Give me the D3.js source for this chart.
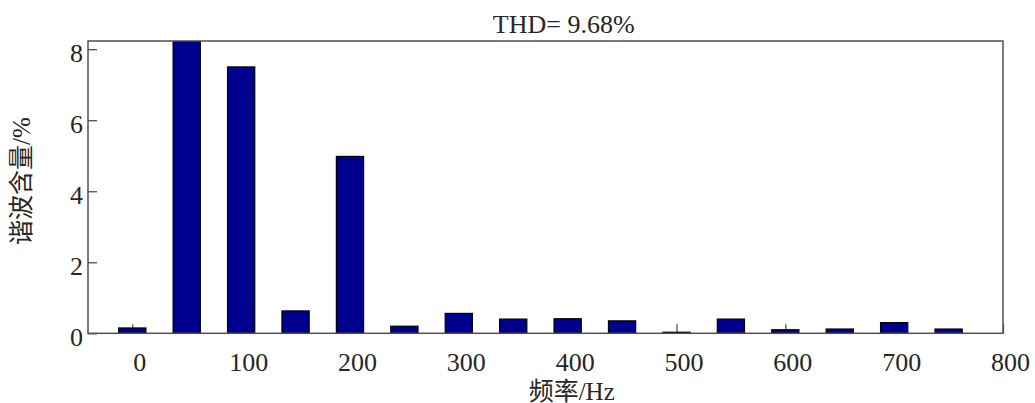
<!DOCTYPE html>
<html>
<head>
<meta charset="utf-8">
<script src="https://cdn.jsdelivr.net/npm/d3@7"></script>
<style>
  html, body { margin: 0; padding: 0; background: #fff; }
  svg { display: block; }
  text { font-family: "Liberation Serif", "Noto Sans CJK SC", serif; fill: #262626; }
</style>
</head>
<body>
<svg id="chart" width="1035" height="403"></svg>
<script>
// Harmonic spectrum (percentage of fundamental)
const frequencies = [0, 50, 100, 150, 200, 250, 300, 350, 400, 450, 500, 550, 600, 650, 700, 750];
const harmonicPct = [0.15, 100, 7.5, 0.63, 4.98, 0.2, 0.56, 0.4, 0.41, 0.35, 0.03, 0.4, 0.1, 0.12, 0.3, 0.12];
const xTicks = [0, 100, 200, 300, 400, 500, 600, 700, 800];
const yTicks = [0, 2, 4, 6, 8];
const titleText = "THD= 9.68%";
const xLabel = "频率/Hz";
const yLabel = "谐波含量/%";

const svg = d3.select("#chart");
const plot = { left: 88, right: 1003, top: 41, bottom: 333.3 };

const x = d3.scaleLinear().domain([-40.7, 800]).range([plot.left, plot.right]);
const y = d3.scaleLinear().domain([0, 8.23]).range([plot.bottom, plot.top]);
const barW = x(25) - x(0);

svg.append("defs").append("clipPath").attr("id", "plotClip")
  .append("rect")
  .attr("x", plot.left).attr("y", plot.top)
  .attr("width", plot.right - plot.left).attr("height", plot.bottom - plot.top);

const axisColor = "#505050";

// x axis: inward ticks, labels below
const gx = svg.append("g").attr("transform", `translate(0,${plot.bottom})`)
  .call(d3.axisBottom(x).tickValues(xTicks).tickSize(-9).tickFormat(d3.format("d")));
gx.select(".domain").remove();
gx.selectAll(".tick line").attr("stroke", axisColor).attr("stroke-width", 1.3);
gx.selectAll(".tick text")
  .attr("y", 37.5).attr("dy", 0).attr("dx", 7)
  .attr("font-size", 26).attr("fill", "#262626")
  .style("font-family", '"Liberation Serif", serif');

// y axis: inward ticks, labels to the left
const gy = svg.append("g").attr("transform", `translate(${plot.left},0)`)
  .call(d3.axisLeft(y).tickValues(yTicks).tickSize(-9).tickPadding(5).tickFormat(d3.format("d")));
gy.select(".domain").remove();
gy.selectAll(".tick line").attr("stroke", axisColor).attr("stroke-width", 1.3);
gy.selectAll(".tick text")
  .attr("dy", 12.5).attr("x", -5)
  .attr("font-size", 26).attr("fill", "#262626")
  .style("font-family", '"Liberation Serif", serif');

// bars
svg.append("g").attr("clip-path", "url(#plotClip)")
  .selectAll("rect")
  .data(frequencies.map((f, i) => ({ f, v: harmonicPct[i] })))
  .join("rect")
  .attr("x", d => x(d.f) - barW / 2)
  .attr("y", d => y(d.v))
  .attr("width", barW)
  .attr("height", d => y(0) - y(d.v))
  .attr("fill", "#00008f")
  .attr("stroke", "#000")
  .attr("stroke-width", 1.2);

// axes box
svg.append("rect")
  .attr("x", plot.left).attr("y", plot.top)
  .attr("width", plot.right - plot.left).attr("height", plot.bottom - plot.top)
  .attr("fill", "none").attr("stroke", axisColor).attr("stroke-width", 1.5);

// title and axis labels
svg.append("text")
  .attr("x", 563.7).attr("y", 33)
  .attr("text-anchor", "middle").attr("font-size", 26)
  .text(titleText);

svg.append("text")
  .attr("x", 571.7).attr("y", 399.5)
  .attr("text-anchor", "middle").attr("font-size", 25)
  .text(xLabel);

svg.append("text")
  .attr("transform", "translate(21.5,181) rotate(-90)")
  .attr("text-anchor", "middle").attr("dy", "0.35em").attr("font-size", 25)
  .text(yLabel);
</script>
</body>
</html>
